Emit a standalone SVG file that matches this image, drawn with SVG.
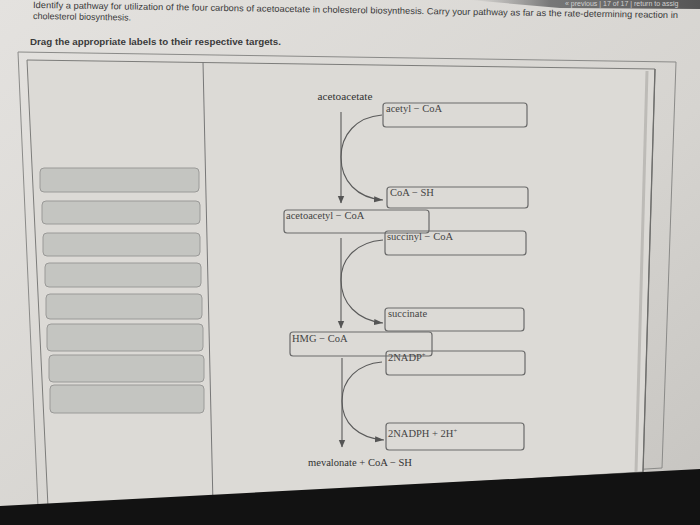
<svg xmlns="http://www.w3.org/2000/svg" width="700" height="525" viewBox="0 0 700 525">
  <defs>
    <linearGradient id="bg" x1="0" y1="0" x2="1" y2="1">
      <stop offset="0" stop-color="#e4e2df"/>
      <stop offset="0.6" stop-color="#d6d4d0"/>
      <stop offset="1" stop-color="#c6c4c0"/>
    </linearGradient>
    <linearGradient id="topdark" x1="0" y1="0" x2="1" y2="0">
      <stop offset="0" stop-color="#8a8a8a" stop-opacity="0"/>
      <stop offset="0.35" stop-color="#777"/>
      <stop offset="1" stop-color="#555"/>
    </linearGradient>
    <marker id="ahV" markerWidth="8" markerHeight="8" refX="7" refY="4" orient="auto" markerUnits="userSpaceOnUse">
      <path d="M0,0.8 L7.5,4 L0,7.2 Z" fill="#555"/>
    </marker>
    <marker id="ahC" markerWidth="10" markerHeight="8" refX="9" refY="4" orient="auto" markerUnits="userSpaceOnUse">
      <path d="M0,1 L9,4 L0,7 Z" fill="#555"/>
    </marker>
  </defs>
  <style>
    .hdr { font-family: "Liberation Sans", Arial, sans-serif; fill: #3a3a3a; }
    .lbl { font-family: "Liberation Serif", "Times New Roman", serif; font-size: 10.5px; fill: #444; }
    .box { fill: none; stroke: #6a6a6a; stroke-width: 1.2; }
    .pal { fill: #c4c5c1; stroke: #9a9a98; stroke-width: 1; }
    .edge { fill: none; stroke: #5a5a5a; stroke-width: 1.1; }
    .frame { fill: none; stroke: #8a8a88; stroke-width: 1; }
  </style>

  <rect x="0" y="0" width="700" height="525" fill="url(#bg)"/>
  <polygon points="470,0 700,0 700,9 560,8" fill="url(#topdark)"/>
  <text class="hdr" x="565" y="6" font-size="7" style="fill:#d0d0d0">« previous  |  17 of 17  |  return to assig</text>

  <g id="header">
    <text class="hdr" x="33" y="8" font-size="9" textLength="645" lengthAdjust="spacingAndGlyphs" transform="rotate(0.9 33 8)">Identify a pathway for utilization of the four carbons of acetoacetate in cholesterol biosynthesis. Carry your pathway as far as the rate-determining reaction in</text>
    <text class="hdr" x="33" y="19" font-size="9" transform="rotate(0.9 33 19)">cholesterol biosynthesis.</text>
    <text class="hdr" x="30" y="45" font-size="8.6" font-weight="bold" textLength="251" lengthAdjust="spacingAndGlyphs">Drag the appropriate labels to their respective targets.</text>
  </g>

  <g id="panel">
    <polygon points="18,52 676,62 662,468 38,507" class="frame"/>
    <polygon points="27,60 655,69 643,472 48,507" fill="#dcdad6" stroke="#7c7c7a" stroke-width="1"/>
    <line x1="647" y1="71" x2="636" y2="472" stroke="#bdbbb7" stroke-width="3"/>
    <line x1="655" y1="69" x2="643" y2="472" stroke="#6e6e6c" stroke-width="1.3"/>
    <line x1="203" y1="62" x2="213" y2="505" stroke="#777" stroke-width="1"/>
  </g>

  <g id="palette">
    <rect class="pal" x="40" y="168" width="159" height="24" rx="4"/>
    <rect class="pal" x="42" y="201" width="158" height="23" rx="4"/>
    <rect class="pal" x="43" y="233" width="157" height="23" rx="4"/>
    <rect class="pal" x="45" y="263" width="156" height="24" rx="4"/>
    <rect class="pal" x="46" y="294" width="156" height="25" rx="4"/>
    <rect class="pal" x="47" y="324" width="156" height="27" rx="4"/>
    <rect class="pal" x="49" y="355" width="155" height="27" rx="4"/>
    <rect class="pal" x="50" y="385" width="154" height="28" rx="4"/>
  </g>

  <g id="connectors">
    <line class="edge" x1="341" y1="112" x2="341" y2="203" marker-end="url(#ahV)"/>
    <path class="edge" d="M382,115 C356,117 341,135 341,157 C341,181 357,198 383,200" marker-end="url(#ahC)"/>
    <line class="edge" x1="341" y1="238" x2="341" y2="328" marker-end="url(#ahV)"/>
    <path class="edge" d="M383,240 C357,242 341,258 341,280 C341,303 357,320 383,323" marker-end="url(#ahC)"/>
    <line class="edge" x1="342" y1="358" x2="342" y2="447" marker-end="url(#ahV)"/>
    <path class="edge" d="M382,362 C357,364 342,380 342,401 C342,423 358,438 384,440" marker-end="url(#ahC)"/>
  </g>

  <g id="acetoacetate"><text class="lbl" x="345" y="100" text-anchor="middle" font-size="10.5" textLength="55" lengthAdjust="spacingAndGlyphs" style="fill:#333">acetoacetate</text></g>
  <g id="acetyl-coa"><rect class="box" x="383" y="103" width="144" height="24" rx="3"/><text class="lbl" x="386" y="112">acetyl − CoA</text></g>
  <g id="coa-sh"><rect class="box" x="387" y="187" width="141" height="21" rx="3"/><text class="lbl" x="390" y="196">CoA − SH</text></g>
  <g id="acetoacetyl-coa"><rect class="box" x="284" y="210" width="145" height="23" rx="3"/><text class="lbl" x="286" y="219">acetoacetyl − CoA</text></g>
  <g id="succinyl-coa"><rect class="box" x="385" y="231" width="141" height="24" rx="3"/><text class="lbl" x="387" y="240">succinyl − CoA</text></g>
  <g id="succinate"><rect class="box" x="385" y="308" width="139" height="23" rx="3"/><text class="lbl" x="388" y="317">succinate</text></g>
  <g id="hmg-coa"><rect class="box" x="290" y="332" width="142" height="24" rx="3"/><text class="lbl" x="292" y="342">HMG − CoA</text></g>
  <g id="nadp"><rect class="box" x="386" y="351" width="139" height="24" rx="3"/><text class="lbl" x="388" y="361">2NADP<tspan font-size="6.5" dy="-4">+</tspan></text></g>
  <g id="nadph"><rect class="box" x="386" y="423" width="138" height="27" rx="3"/><text class="lbl" x="388" y="437">2NADPH + 2H<tspan font-size="6.5" dy="-4">+</tspan></text></g>
  <g id="mevalonate"><text class="lbl" x="308" y="466" font-size="10.5" textLength="104" lengthAdjust="spacingAndGlyphs" style="fill:#333">mevalonate + CoA − SH</text></g>

  <polygon points="0,506 700,469 700,525 0,525" fill="#121212"/>
</svg>
